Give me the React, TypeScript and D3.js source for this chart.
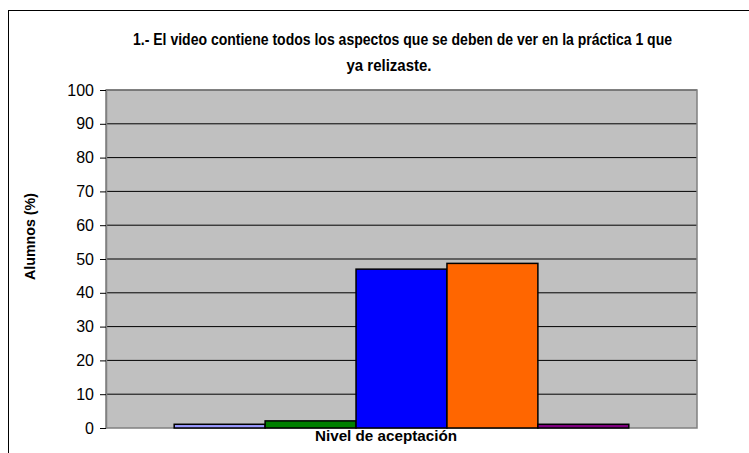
import React, { useEffect, useRef } from 'react';
import * as d3 from 'd3';

const categories = ['Nivel de aceptación'];
const seriesNames = ['Muy bajo', 'Bajo', 'Medio', 'Alto', 'Muy alto'];
const seriesValues = [1.1, 2.1, 47.0, 48.7, 1.1];
const seriesColors = ['#9999FF', '#008000', '#0000FF', '#FF6600', '#800080'];
const yTicks = [0, 10, 20, 30, 40, 50, 60, 70, 80, 90, 100];
const titleLines = [
  '1.- El video contiene todos los aspectos que se deben de ver en la práctica 1 que',
  'ya relizaste.',
];

export default function App() {
  const svgRef = useRef<SVGSVGElement>(null);

  useEffect(() => {
    if (!svgRef.current) return;
    const svg = d3.select(svgRef.current);
    svg.selectAll('*').remove();

    const font = '"Liberation Sans", Arial, sans-serif';
    const plot = { left: 106, right: 697, top: 90, bottom: 428 };

    // outer chart frame (runs past the right and bottom edges)
    svg.append('rect')
      .attr('x', 8.5).attr('y', 10.5)
      .attr('width', 760).attr('height', 460)
      .attr('fill', '#fff').attr('stroke', '#000');

    const x0 = d3.scaleBand().domain(categories).range([plot.left, plot.right])
      .paddingInner(0).paddingOuter(0.15);
    const x1 = d3.scaleBand().domain(seriesNames).range([0, x0.bandwidth()]).padding(0);
    const y = d3.scaleLinear().domain([0, 100]).range([plot.bottom, plot.top]);

    svg.append('rect')
      .attr('x', plot.left).attr('y', plot.top)
      .attr('width', plot.right - plot.left).attr('height', plot.bottom - plot.top)
      .attr('fill', '#C0C0C0');

    svg.append('g').selectAll('line')
      .data(yTicks.filter(t => t > 0))
      .enter().append('line')
      .attr('x1', plot.left).attr('x2', plot.right)
      .attr('y1', d => y(d)).attr('y2', d => y(d))
      .attr('stroke', '#000').attr('stroke-width', 1);

    svg.append('rect')
      .attr('x', plot.left).attr('y', plot.top)
      .attr('width', plot.right - plot.left).attr('height', plot.bottom - plot.top)
      .attr('fill', 'none').attr('stroke', '#808080').attr('stroke-width', 1.5);

    const data = seriesNames.map((s, i) => ({ s, v: seriesValues[i], c: seriesColors[i] }));
    svg.append('g')
      .attr('transform', `translate(${x0(categories[0])},0)`)
      .selectAll('rect')
      .data(data)
      .enter().append('rect')
      .attr('x', d => x1(d.s)!)
      .attr('y', d => y(d.v))
      .attr('width', x1.bandwidth())
      .attr('height', d => y(0) - y(d.v))
      .attr('fill', d => d.c)
      .attr('stroke', '#000').attr('stroke-width', 1.5);

    const yAxis = svg.append('g')
      .attr('transform', `translate(${plot.left},0)`)
      .call(d3.axisLeft(y).tickValues(yTicks).tickSize(6).tickPadding(6).tickSizeOuter(0));
    yAxis.select('.domain').attr('stroke', '#808080').attr('stroke-width', 1.5);
    yAxis.selectAll('.tick line').attr('stroke', '#000');
    yAxis.selectAll('.tick text')
      .attr('font-family', font).attr('font-size', 16).attr('fill', '#000');

    svg.append('g').selectAll('text')
      .data(titleLines)
      .enter().append('text')
      .attr('x', (d, i) => (i === 0 ? 402.5 : 389))
      .attr('y', (d, i) => 45 + i * 25.5)
      .attr('text-anchor', 'middle')
      .attr('font-family', font).attr('font-size', 16).attr('font-weight', 'bold')
      .attr('textLength', (d, i) => (i === 0 ? 539 : 85))
      .attr('lengthAdjust', 'spacingAndGlyphs')
      .text(d => d);

    svg.append('text')
      .attr('transform', 'translate(35,236.5) rotate(-90)')
      .attr('text-anchor', 'middle')
      .attr('font-family', font).attr('font-size', 14).attr('font-weight', 'bold')
      .attr('textLength', 87).attr('lengthAdjust', 'spacingAndGlyphs')
      .text('Alumnos (%)');

    svg.append('text')
      .attr('x', 386).attr('y', 441)
      .attr('text-anchor', 'middle')
      .attr('font-family', font).attr('font-size', 15).attr('font-weight', 'bold')
      .attr('textLength', 142).attr('lengthAdjust', 'spacingAndGlyphs')
      .text(categories[0]);
  }, []);

  return (
    <svg ref={svgRef} width={749} height={453}
      style={{ position: 'absolute', left: 0, top: 0, display: 'block' }} />
  );
}
